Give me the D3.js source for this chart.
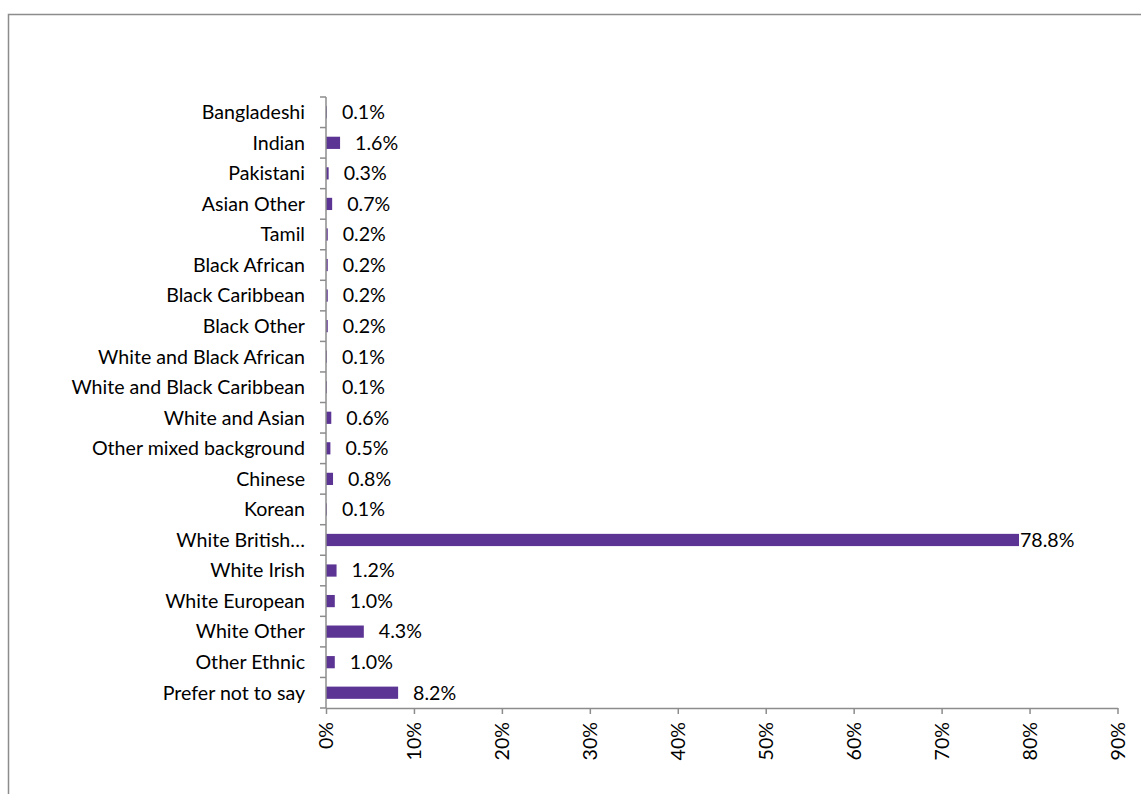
<!DOCTYPE html>
<html>
<head>
<meta charset="utf-8">
<script src="https://cdn.jsdelivr.net/npm/d3@7"></script>
<style>
  html, body { margin: 0; padding: 0; background: #fff; }
  svg { display: block; }
  text { font-family: Lato, "Open Sans", sans-serif; fill: #000; }
</style>
</head>
<body>
<svg id="chart" width="1141" height="794"></svg>
<script>
// Ethnic background of respondents (share of total)
const categories = [
  "Bangladeshi", "Indian", "Pakistani", "Asian Other", "Tamil",
  "Black African", "Black Caribbean", "Black Other",
  "White and Black African", "White and Black Caribbean", "White and Asian",
  "Other mixed background", "Chinese", "Korean", "White British…",
  "White Irish", "White European", "White Other", "Other Ethnic",
  "Prefer not to say"
];
const shares = [
  0.001, 0.016, 0.003, 0.007, 0.002,
  0.002, 0.002, 0.002,
  0.001, 0.001, 0.006,
  0.005, 0.008, 0.001, 0.788,
  0.012, 0.010, 0.043, 0.010,
  0.082
];
const xTicks = [0, 0.1, 0.2, 0.3, 0.4, 0.5, 0.6, 0.7, 0.8, 0.9];

const svg = d3.select("#chart");
const fontSize = 19.6;
const axisColor = "#8c8c8c";
const barColor = "#5c3494";

// Chart frame
svg.append("rect")
  .attr("x", 8.5).attr("y", 14.5)
  .attr("width", 1300).attr("height", 900)
  .attr("fill", "none")
  .attr("stroke", axisColor)
  .attr("stroke-width", 1.5);

const plot = { left: 326, right: 1117.5, top: 97, bottom: 708 };

const x = d3.scaleLinear().domain([0, 0.9]).range([plot.left, plot.right]);
const y = d3.scaleBand().domain(categories)
  .range([plot.top, plot.bottom])
  .paddingInner(0.6).paddingOuter(0.3);

// Bars
svg.append("g").selectAll("rect")
  .data(categories)
  .join("rect")
  .attr("x", x(0))
  .attr("y", d => y(d))
  .attr("width", (d, i) => x(shares[i]) - x(0))
  .attr("height", y.bandwidth())
  .attr("fill", barColor);

// Value labels
const pct = d3.format(".1%");
svg.append("g").selectAll("text")
  .data(categories)
  .join("text")
  .attr("x", (d, i) => x(shares[i]) + (shares[i] > 0.5 ? 1 : 15))
  .attr("y", d => y(d) + y.bandwidth() / 2)
  .attr("dy", "0.35em")
  .attr("font-size", fontSize)
  .text((d, i) => pct(shares[i]));

// Category axis (ticks sit between categories)
const yAxis = svg.append("g");
yAxis.append("line")
  .attr("x1", plot.left).attr("x2", plot.left)
  .attr("y1", plot.top).attr("y2", plot.bottom)
  .attr("stroke", axisColor).attr("stroke-width", 1.5);
const step = y.step();
yAxis.selectAll("line.tick")
  .data(d3.range(categories.length + 1))
  .join("line")
  .attr("class", "tick")
  .attr("x1", plot.left - 6).attr("x2", plot.left)
  .attr("y1", i => plot.top + i * step)
  .attr("y2", i => plot.top + i * step)
  .attr("stroke", axisColor).attr("stroke-width", 1.5);
yAxis.selectAll("text")
  .data(categories)
  .join("text")
  .attr("x", plot.left - 21)
  .attr("y", d => y(d) + y.bandwidth() / 2)
  .attr("dy", "0.35em")
  .attr("text-anchor", "end")
  .attr("font-size", fontSize)
  .text(d => d);

// Value axis
const xAxis = svg.append("g")
  .attr("transform", `translate(0,${plot.bottom})`)
  .call(d3.axisBottom(x).tickValues(xTicks).tickFormat(d3.format(".0%"))
    .tickSize(6).tickSizeOuter(0));
xAxis.select(".domain").attr("stroke", axisColor).attr("stroke-width", 1.5);
xAxis.selectAll(".tick line").attr("stroke", axisColor).attr("stroke-width", 1.5);
xAxis.selectAll(".tick text")
  .attr("font-size", fontSize)
  .attr("font-family", "Lato, 'Open Sans', sans-serif")
  .attr("fill", "#000")
  .attr("transform", "rotate(-90)")
  .attr("text-anchor", "end")
  .attr("x", -14)
  .attr("y", 0)
  .attr("dy", "0.35em");
</script>
</body>
</html>
